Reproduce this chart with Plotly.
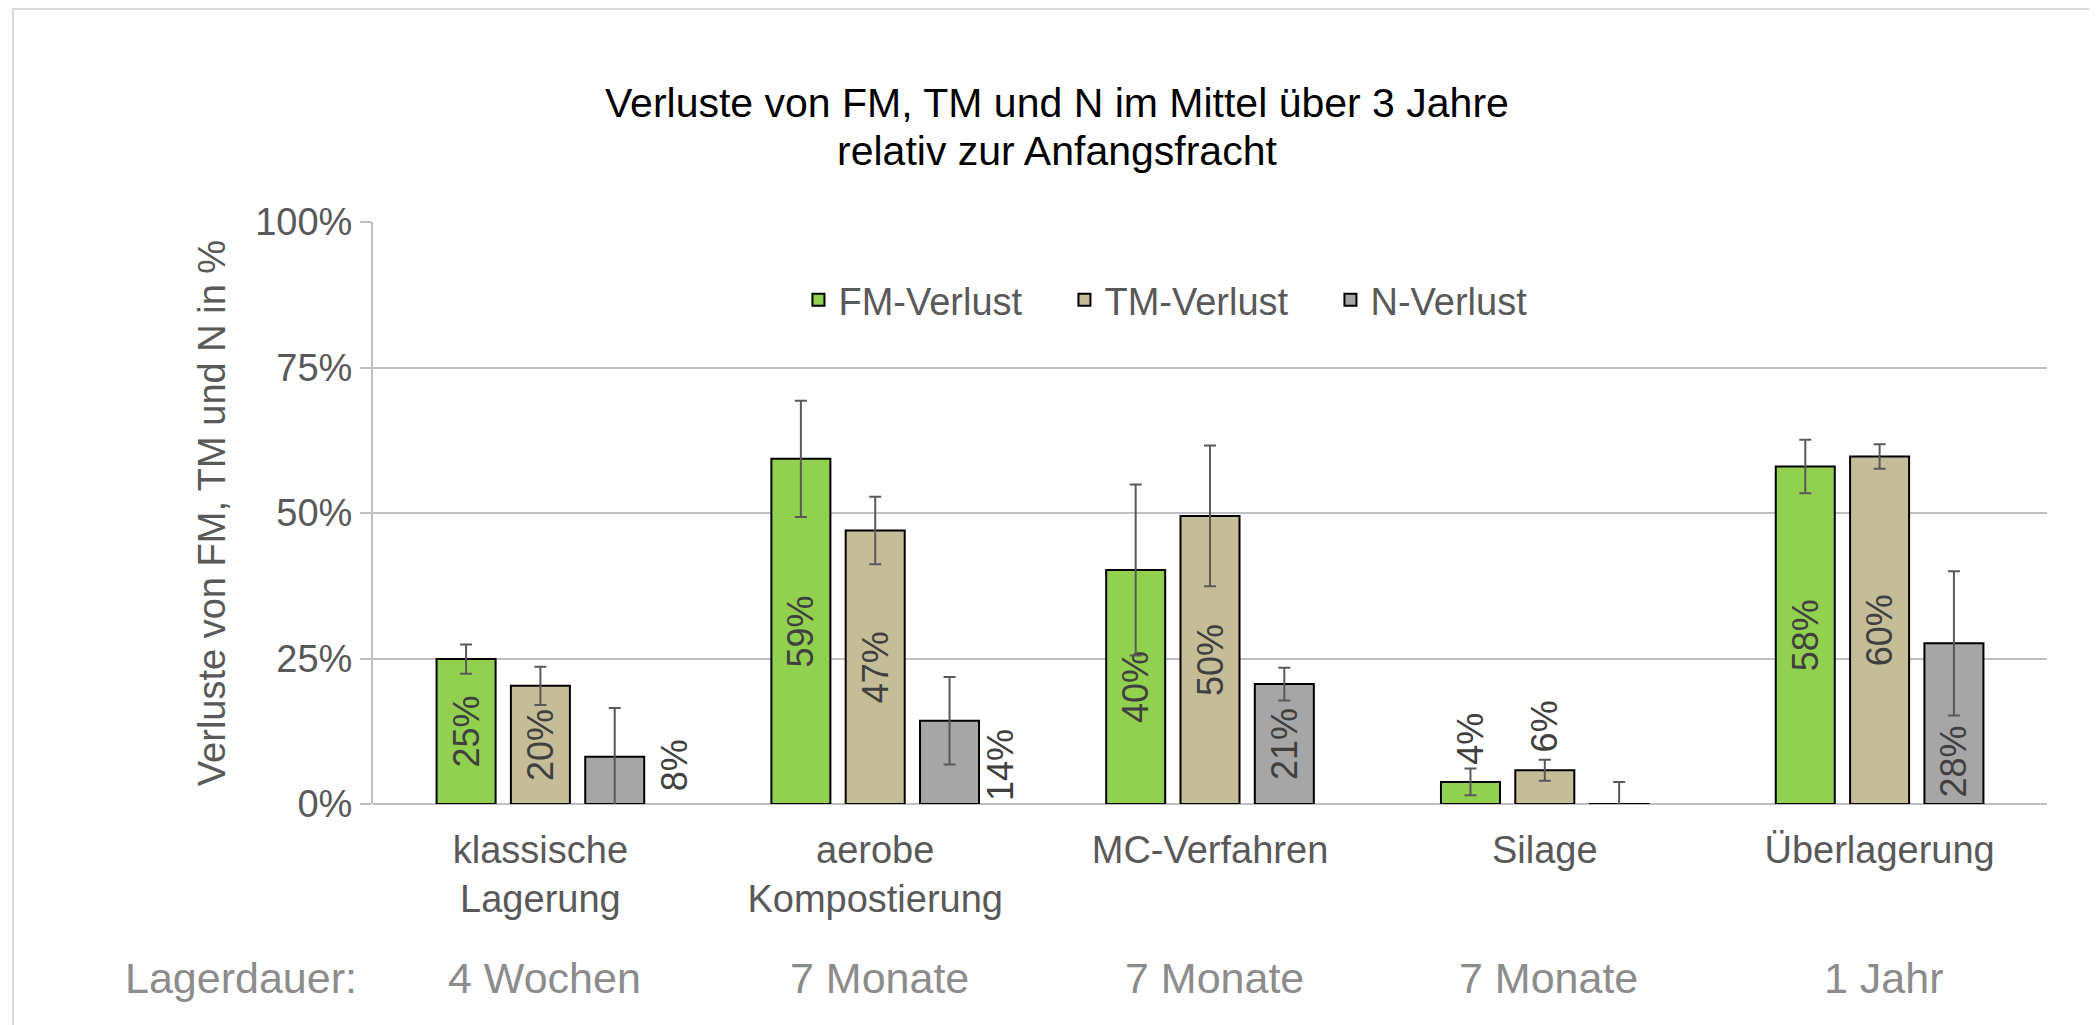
import plotly.graph_objects as go

# ---------------- data ----------------
categories = ["klassische<br>Lagerung", "aerobe<br>Kompostierung", "MC-Verfahren", "Silage", "Überlagerung"]
durations = ["4 Wochen", "7 Monate", "7 Monate", "7 Monate", "1 Jahr"]
series_names = ["FM-Verlust", "TM-Verlust", "N-Verlust"]

fm_loss = [0.249, 0.593, 0.402, 0.038, 0.580]
fm_err = [0.025, 0.100, 0.147, 0.023, 0.046]
tm_loss = [0.203, 0.470, 0.495, 0.058, 0.597]
tm_err = [0.033, 0.058, 0.121, 0.018, 0.021]
n_loss = [0.081, 0.143, 0.206, -0.003, 0.276]
n_err = [0.084, 0.075, 0.028, 0.041, 0.124]

y_ticks = [0, 0.25, 0.5, 0.75, 1.0]
title_lines = ["Verluste von FM, TM und N im Mittel über 3 Jahre", "relativ zur Anfangsfracht"]

# ---------------- layout constants ----------------
W, H = 2097, 1025
OFF = 8  # page offset of the plot div
L, T = 373 - OFF, 222 - OFF
R = W - (2047 - OFF)
B = H - (804 - OFF)
plot_w = W - L - R
plot_h = H - T - B
cat_w = plot_w / len(categories)
bargap = 0.334
slot = (1 - bargap) * cat_w / 3


def py(y_px):
    """page pixel row -> paper y"""
    return (H - B - (y_px - OFF)) / plot_h


def px(x_px):
    return (x_px - OFF - L) / plot_w


FONT = "Liberation Sans, Arial, sans-serif"
TXT = "#595959"
LBL = "#404040"
colors = ["#92D050", "#C4BD97", "#A6A6A6"]
all_vals = [fm_loss, tm_loss, n_loss]
all_errs = [fm_err, tm_err, n_err]

# data label placement: "in" = centered inside bar, tuple = annotation (kind, xshift px)
label_mode = [
    ["in", "in", "in", ("above", 0), "in"],
    ["in", "in", "in", ("above", 0), "in"],
    [("right", 60), ("right", 51), "in", None, ("low", 0)],
]

fig = go.Figure()
for s in range(3):
    vals = all_vals[s]
    texts = [f"{v:.0%}" if label_mode[s][i] == "in" else "" for i, v in enumerate(vals)]
    fig.add_trace(go.Bar(
        name=series_names[s], x=categories, y=vals,
        marker=dict(color=colors[s], line=dict(color="black", width=2)),
        error_y=dict(type="data", array=all_errs[s], color="#595959", thickness=2, width=6),
        text=texts, textposition="inside", insidetextanchor="middle",
        textangle=-90, constraintext="none",
        textfont=dict(family=FONT, size=36, color=LBL),
        cliponaxis=False,
    ))

annotations = []
for s in range(3):
    for i, v in enumerate(all_vals[s]):
        mode = label_mode[s][i]
        if mode == "in" or mode is None:
            continue
        kind, dx = mode
        xshift = (s - 1) * slot + dx
        if kind == "above":
            y = v + 0.075
        elif kind == "right":
            y = 0.066
        else:  # low
            y = 0.073
        annotations.append(dict(
            x=categories[i], y=y, xref="x", yref="y", text=f"{v:.0%}",
            textangle=-90, showarrow=False, xshift=xshift, yanchor="middle",
            font=dict(family=FONT, size=36, color=LBL),
        ))

# storage duration row
ROW = "#8C8C8C"
for i, d in enumerate(durations):
    annotations.append(dict(
        x=categories[i], y=py(978), xref="x", yref="paper", xanchor="center", yanchor="middle",
        text=d, showarrow=False, xshift=4,
        font=dict(family=FONT, size=43, color=ROW),
    ))
annotations.append(dict(
    x=px(241), y=py(978), xref="paper", yref="paper", xanchor="center", yanchor="middle",
    text="Lagerdauer:", showarrow=False, font=dict(family=FONT, size=43, color=ROW),
))

# two-line chart title (one text; base size sets the line pitch,
# the spans carry the glyph size)
title_text = "<br>".join(f"<span style='font-size:41px'>{t}</span>" for t in title_lines)
annotations.append(dict(
    x=px(1057), y=py(127), xref="paper", yref="paper", xanchor="center", yanchor="middle",
    text=title_text, showarrow=False, font=dict(family=FONT, size=37, color="#000000"),
))

fig.update_layout(
    width=W, height=H,
    margin=dict(l=L, r=R, t=T, b=B, autoexpand=False),
    paper_bgcolor="white", plot_bgcolor="white",
    barmode="group", bargap=bargap, bargroupgap=0.206,
    font=dict(family=FONT, size=38, color=TXT),
    legend=dict(
        orientation="h", x=0.4925, xanchor="center", y=py(300), yanchor="middle",
        font=dict(family=FONT, size=38, color=TXT), bgcolor="rgba(0,0,0,0)",
        entrywidth=221, entrywidthmode="pixels", traceorder="normal",
    ),
    xaxis=dict(
        showgrid=False, showline=False, ticks="", zeroline=False,
        tickfont=dict(family=FONT, size=38, color=TXT), ticklabelstandoff=20,
    ),
    yaxis=dict(
        range=[0, 1], tickvals=y_ticks, tickformat=".0%",
        showgrid=True, gridcolor="#BFBFBF", gridwidth=2,
        showline=True, linecolor="#BFBFBF", linewidth=2,
        zeroline=True, zerolinecolor="#BFBFBF", zerolinewidth=2,
        ticks="outside", ticklen=11, tickcolor="#BFBFBF", tickwidth=2,
        tickfont=dict(family=FONT, size=38, color=TXT),
        title=dict(text="Verluste von FM, TM und N in %", standoff=18,
                   font=dict(family=FONT, size=38, color=TXT)),
    ),
    annotations=annotations,
    shapes=[dict(type="rect", xref="paper", yref="paper",
                 x0=px(13), x1=px(2120),
                 y0=py(1060), y1=py(9),
                 line=dict(color="#D9D9D9", width=2), layer="below")],
)

fig.write_html("out.html")
